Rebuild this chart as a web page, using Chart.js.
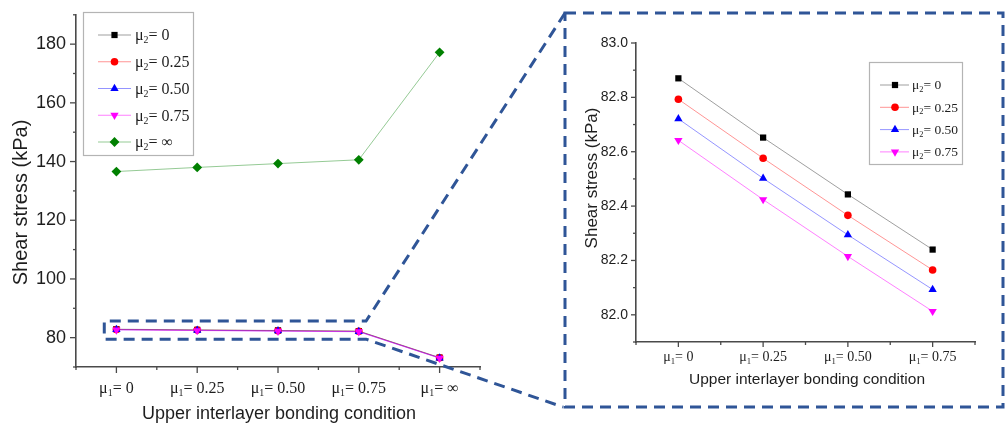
<!DOCTYPE html>
<html>
<head>
<meta charset="utf-8">
<script src="https://cdn.jsdelivr.net/npm/chart.js@4.4.1/dist/chart.umd.min.js"></script>
<style>
  html, body { margin: 0; padding: 0; background: #ffffff; }
  #stage { position: relative; width: 1006px; height: 425px; overflow: hidden; background: #ffffff; }
  #stage canvas { position: absolute; }
</style>
</head>
<body>
<div id="stage">
  <canvas id="mainChart" width="560" height="425" style="left:0px;top:0px"></canvas>
  <canvas id="zoomChart" width="436" height="392" style="left:566px;top:14px"></canvas>
  <canvas id="guides" width="1006" height="425" style="left:0px;top:0px;pointer-events:none"></canvas>
</div>
<script>
// Upper interlayer bonding condition (mu1) on the x axis
const upperLabels = ['0', '0.25', '0.50', '0.75', '\u221E'];
// Lower interlayer bonding condition (mu2), one series each
const lowerLabels = ['0', '0.25', '0.50', '0.75', '\u221E'];

// Shear stress (kPa) per mu1 condition
const shearMu2_0    = [82.870, 82.652, 82.443, 82.240, 73.20];
const shearMu2_025  = [82.793, 82.576, 82.366, 82.165, 73.13];
const shearMu2_050  = [82.721, 82.502, 82.294, 82.093, 73.06];
const shearMu2_075  = [82.642, 82.424, 82.215, 82.013, 73.00];
const shearMu2_inf  = [136.6, 138.0, 139.3, 140.6, 177.2];

// Detail view: first four mu1 conditions of the finite mu2 series
const detailCount = 4;

const allSeries = [shearMu2_0, shearMu2_025, shearMu2_050, shearMu2_075, shearMu2_inf];

// Series styling
const markerColors = ['#000000', '#ff0000', '#0000ff', '#ff00ff', '#008000'];
const lineColors = ['rgba(0,0,0,0.38)', 'rgba(255,0,0,0.42)', 'rgba(0,0,255,0.42)', 'rgba(255,0,255,0.5)', 'rgba(0,128,0,0.42)'];
const markerStyles = ['rect', 'circle', 'triangle', 'triangle', 'rectRot'];
const markerRotations = [0, 0, 0, 180, 0];
const markerRadii = [4.4, 3.8, 4.8, 4.8, 4.9];

const SANS = '"Liberation Sans", Arial, sans-serif';
const SERIF = '"Liberation Serif", "Times New Roman", serif';
const AXIS_COLOR = '#4a4a4a';
const TEXT_COLOR = '#1e1e1e';

// Marker shapes following Chart.js point geometry
function drawMarker(ctx, style, rotationDeg, radius, x, y, color) {
  ctx.save();
  ctx.fillStyle = color;
  ctx.beginPath();
  let rad = rotationDeg * Math.PI / 180;
  if (style === 'circle') {
    ctx.arc(x, y, radius, 0, Math.PI * 2);
  } else if (style === 'rect') {
    const s = Math.SQRT1_2 * radius;
    ctx.rect(x - s, y - s, 2 * s, 2 * s);
  } else if (style === 'triangle') {
    for (let k = 0; k < 3; k++) {
      const px = x + Math.sin(rad) * radius;
      const py = y - Math.cos(rad) * radius;
      if (k === 0) ctx.moveTo(px, py); else ctx.lineTo(px, py);
      rad += 2 * Math.PI / 3;
    }
  } else if (style === 'rectRot') {
    ctx.moveTo(x - radius, y);
    ctx.lineTo(x, y - radius);
    ctx.lineTo(x + radius, y);
    ctx.lineTo(x, y + radius);
  }
  ctx.closePath();
  ctx.fill();
  ctx.restore();
}

// "μ" + subscript + tail, e.g. μ₁= 0.25
function drawMuLabel(ctx, sub, tail, x, cy, size, align) {
  ctx.save();
  ctx.fillStyle = TEXT_COLOR;
  ctx.textBaseline = 'alphabetic';
  ctx.textAlign = 'left';
  const big = size + 'px ' + SERIF;
  const small = (size * 0.62).toFixed(2) + 'px ' + SERIF;
  ctx.font = big;
  const wMu = ctx.measureText('\u03BC').width;
  const wTail = ctx.measureText(tail).width;
  ctx.font = small;
  const wSub = ctx.measureText(sub).width;
  const total = wMu + wSub + wTail;
  let x0 = align === 'center' ? x - total / 2 : x;
  const base = cy + size * 0.33;
  ctx.font = big;
  ctx.fillText('\u03BC', x0, base);
  ctx.font = small;
  ctx.fillText(sub, x0 + wMu, base + size * 0.2);
  ctx.font = big;
  ctx.fillText(tail, x0 + wMu + wSub, base);
  ctx.restore();
}

// Axis decorations: tick marks, category labels, axis titles and the series key
function makeDecor(cfg) {
  return {
    id: 'decor_' + cfg.name,
    afterDraw(chart) {
      const ctx = chart.ctx;
      const xs = chart.scales.x, ys = chart.scales.y;
      ctx.save();
      ctx.strokeStyle = AXIS_COLOR;
      ctx.lineWidth = 1.3;
      ys.ticks.forEach(t => {
        const len = cfg.isMajorY(t.value) ? cfg.majorLen : cfg.minorLen;
        const py = ys.getPixelForValue(t.value);
        ctx.beginPath();
        ctx.moveTo(ys.right - len, py);
        ctx.lineTo(ys.right, py);
        ctx.stroke();
      });
      xs.ticks.forEach(t => {
        const major = Math.abs(t.value - Math.round(t.value)) < 1e-6;
        const len = major ? cfg.majorLen : cfg.minorLen;
        const px = xs.getPixelForValue(t.value);
        ctx.beginPath();
        ctx.moveTo(px, xs.top);
        ctx.lineTo(px, xs.top + len);
        ctx.stroke();
      });
      ctx.restore();

      // category labels under the x axis
      for (let i = 0; i < cfg.categoryCount; i++) {
        drawMuLabel(ctx, '1', '= ' + upperLabels[i], xs.getPixelForValue(i), cfg.catLabelY, cfg.catFont, 'center');
      }

      // axis titles
      ctx.save();
      ctx.fillStyle = TEXT_COLOR;
      ctx.textAlign = 'center';
      ctx.textBaseline = 'middle';
      ctx.font = cfg.xTitle.size + 'px ' + SANS;
      ctx.fillText('Upper interlayer bonding condition', cfg.xTitle.x, cfg.xTitle.y);
      ctx.translate(cfg.yTitle.x, cfg.yTitle.y);
      ctx.rotate(-Math.PI / 2);
      ctx.font = cfg.yTitle.size + 'px ' + SANS;
      ctx.fillText('Shear stress (kPa)', 0, 0);
      ctx.restore();

      // series key
      const k = cfg.key;
      ctx.save();
      ctx.strokeStyle = '#b4b4b4';
      ctx.lineWidth = 1.2;
      ctx.strokeRect(k.x + 0.5, k.y + 0.5, k.w, k.h);
      chart.data.datasets.forEach((ds, i) => {
        const ry = k.firstRow + i * k.rowGap;
        ctx.strokeStyle = lineColors[i];
        ctx.lineWidth = 1;
        ctx.beginPath();
        ctx.moveTo(k.lineX1, ry);
        ctx.lineTo(k.lineX2, ry);
        ctx.stroke();
        drawMarker(ctx, markerStyles[i], markerRotations[i], markerRadii[i], k.markX, ry, markerColors[i]);
        drawMuLabel(ctx, '2', '= ' + lowerLabels[i], k.textX, ry, k.font, 'left');
      });
      ctx.restore();
    }
  };
}

function buildDatasets(count, points) {
  const sets = [];
  for (let s = 0; s < count; s++) {
    sets.push({
      label: '\u03BC2= ' + lowerLabels[s],
      data: allSeries[s].slice(0, points).map((v, i) => ({ x: i, y: v })),
      borderColor: lineColors[s],
      borderWidth: 1,
      backgroundColor: markerColors[s],
      pointBackgroundColor: markerColors[s],
      pointBorderWidth: 0,
      pointStyle: markerStyles[s],
      pointRotation: markerRotations[s],
      pointRadius: markerRadii[s],
      tension: 0,
      order: count - s
    });
  }
  return sets;
}

function axisOptions(xMax, yMin, yMax, yStep, isMajorY, yFmt, yFont, xHeight, yWidth, yPad) {
  return {
    x: {
      type: 'linear', min: -0.5, max: xMax,
      afterFit: s => { s.height = xHeight; },
      ticks: { stepSize: 0.5, display: false, autoSkip: false },
      grid: { display: false, drawTicks: false },
      border: { display: true, color: AXIS_COLOR, width: 1.6 }
    },
    y: {
      type: 'linear', min: yMin, max: yMax,
      afterFit: s => { s.width = yWidth; },
      ticks: {
        stepSize: yStep, autoSkip: false, padding: yPad,
        color: TEXT_COLOR, font: { family: SANS, size: yFont },
        callback: v => isMajorY(v) ? yFmt(v) : ''
      },
      grid: { display: false, drawTicks: true, tickLength: 6 },
      border: { display: true, color: AXIS_COLOR, width: 1.6 }
    }
  };
}

// Full view
const mainMajor = v => Math.round(v) % 20 === 0;
const mainChart = new Chart(document.getElementById('mainChart'), {
  type: 'line',
  data: { datasets: buildDatasets(5, 5) },
  options: {
    responsive: false, animation: false, devicePixelRatio: 1,
    layout: { padding: { left: 0, top: 12, right: 80, bottom: 0 } },
    plugins: { legend: { display: false }, tooltip: { enabled: false } },
    scales: axisOptions(4.5, 70, 190, 10, mainMajor, v => String(Math.round(v)), 18, 58, 76, 4)
  },
  plugins: [makeDecor({
    name: 'main', isMajorY: mainMajor, majorLen: 6, minorLen: 3,
    categoryCount: 5, catLabelY: 387.5, catFont: 16,
    xTitle: { x: 279, y: 414.5, size: 18 },
    yTitle: { x: 21, y: 202.5, size: 20 },
    key: { x: 83, y: 12, w: 110, h: 143, firstRow: 35, rowGap: 26.75, lineX1: 98, lineX2: 131, markX: 114.5, textX: 135, font: 16 }
  })]
});

// Detail view of the finite mu1 / mu2 cases
const zoomMajor = v => Math.round(v * 10) % 2 === 0;
const zoomChart = new Chart(document.getElementById('zoomChart'), {
  type: 'line',
  data: { datasets: buildDatasets(4, detailCount) },
  options: {
    responsive: false, animation: false, devicePixelRatio: 1,
    layout: { padding: { left: 0, top: 29, right: 27, bottom: 0 } },
    plugins: { legend: { display: false }, tooltip: { enabled: false } },
    scales: axisOptions(3.5, 81.9, 83.0, 0.1, zoomMajor, v => v.toFixed(1), 14, 64, 70, 2)
  },
  plugins: [makeDecor({
    name: 'zoom', isMajorY: zoomMajor, majorLen: 5, minorLen: 3,
    categoryCount: 4, catLabelY: 342.7, catFont: 14,
    xTitle: { x: 241, y: 365.5, size: 15.5 },
    yTitle: { x: 26, y: 164, size: 17 },
    key: { x: 303, y: 48, w: 93, h: 102, firstRow: 71, rowGap: 22.3, lineX1: 314, lineX2: 343, markX: 329, textX: 346, font: 13.5 }
  })]
});

// Dashed call-out from the low-stress band to the detail view
(function drawGuides() {
  const g = document.getElementById('guides').getContext('2d');
  const xs = mainChart.scales.x, ys = mainChart.scales.y;
  const bandLeft = xs.getPixelForValue(-0.15);
  const bandRight = xs.getPixelForValue(3.09);
  const bandTop = ys.getPixelForValue(85.65);
  const bandBottom = ys.getPixelForValue(79.47);
  const zc = document.getElementById('zoomChart');
  const boxL = zc.offsetLeft - 1, boxT = zc.offsetTop - 1;
  const boxR = zc.offsetLeft + zc.width + 1, boxB = zc.offsetTop + zc.height + 1;

  g.strokeStyle = '#2f5597';
  g.lineWidth = 3;
  g.setLineDash([11, 7]);
  g.lineJoin = 'miter';

  g.beginPath();
  g.moveTo(boxL, boxT);
  g.lineTo(bandRight, bandTop);
  g.lineTo(bandLeft, bandTop);
  g.lineTo(bandLeft, bandBottom);
  g.lineTo(bandRight, bandBottom);
  g.lineTo(boxL - 2, boxB);
  g.stroke();

  g.beginPath();
  g.rect(boxL, boxT, boxR - boxL, boxB - boxT);
  g.stroke();
})();
</script>
</body>
</html>
